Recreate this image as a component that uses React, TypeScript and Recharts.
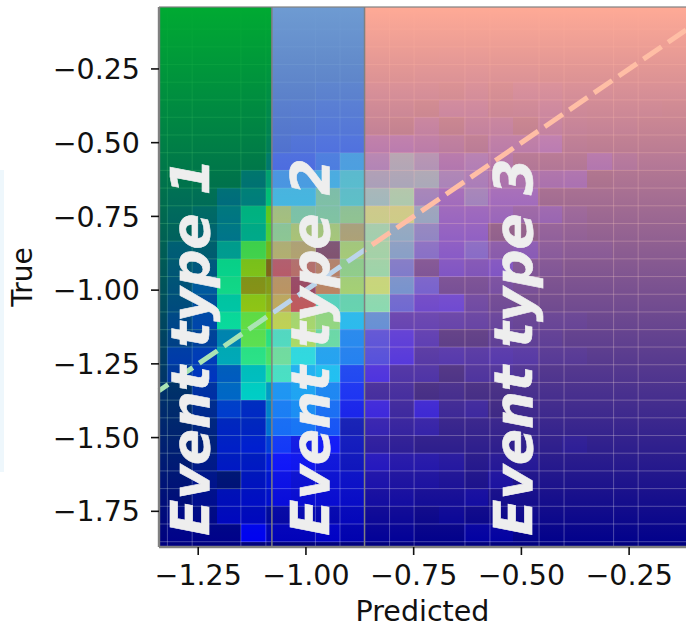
import { ScatterChart, Scatter, XAxis, YAxis, ZAxis, ReferenceArea, ReferenceLine, ReferenceDot, CartesianGrid } from 'recharts';

const xDomain: [number, number] = [-1.341, -0.118];
const yDomain: [number, number] = [-1.871, -0.04];
const xTicks = [-1.25, -1.0, -0.75, -0.5, -0.25];
const yTicks = [-1.75, -1.5, -1.25, -1.0, -0.75, -0.5, -0.25];

// histogram bin centres
const binX = [-1.293, -1.236, -1.178, -1.121, -1.064, -1.006, -0.949, -0.892, -0.834, -0.777, -0.72, -0.662, -0.605, -0.548, -0.49, -0.433, -0.376, -0.318, -0.261, -0.204, -0.146];
const binY = [-0.085, -0.145, -0.205, -0.265, -0.325, -0.385, -0.444, -0.504, -0.564, -0.624, -0.684, -0.744, -0.804, -0.864, -0.924, -0.984, -1.044, -1.104, -1.163, -1.223, -1.283, -1.343, -1.403, -1.463, -1.523, -1.583, -1.643, -1.703, -1.763, -1.823];
const binWidth = 0.05734;
const binHeight = 0.05993;

// colour level of each bin, in percent of the jet scale, top row first
const density = [
  [0, 0, 0, 0, 0, 0, 0, 0, 1, 1, 1, 1, 1, 1, 1, 1, 1, 1, 1, 1, 1],
  [0, 0, 0, 0, 1, 1, 1, 1, 1, 1, 1, 1, 1, 1, 1, 1, 1, 1, 1, 1, 1],
  [0, 0, 0, 0, 1, 1, 1, 1, 1, 1, 1, 2, 2, 1, 1, 1, 1, 1, 1, 1, 1],
  [0, 0, 0, 0, 2, 2, 2, 2, 1, 1, 2, 2, 3, 2, 2, 1, 1, 1, 1, 1, 1],
  [0, 0, 0, 0, 3, 3, 5, 5, 3, 3, 3, 1, 4, 1, 5, 5, 3, 3, 2, 2, 2],
  [0, 0, 0, 0, 5, 6, 8, 8, 2, 2, 0, 6, 6, 2, 3, 6, 3, 2, 2, 2, 1],
  [0, 0, 0, 0, 5, 6, 9, 9, 2, 0, 6, 0, 5, 6, 0, 6, 3, 2, 2, 1, 1],
  [0, 0, 0, 0, 6, 9, 11, 12, 9, 10, 8, 5, 2, 8, 8, 11, 2, 1, 1, 1, 1],
  [0, 0, 0, 0, 11, 11, 18, 29, 17, 28, 22, 9, 15, 8, 2, 2, 2, 9, 4, 2, 2],
  [0, 0, 0, 10, 26, 28, 33, 41, 26, 28, 29, 18, 16, 8, 8, 8, 9, 0, 1, 1, 1],
  [2, 2, 12, 17, 35, 35, 54, 43, 33, 39, 19, 11, 19, 11, 11, 1, 1, 1, 1, 1, 1],
  [3, 5, 16, 31, 65, 53, 54, 59, 50, 51, 28, 11, 12, 10, 6, 8, 3, 1, 1, 1, 1],
  [2, 6, 17, 29, 57, 65, 64, 73, 40, 29, 21, 12, 12, 0, 0, 3, 2, 1, 1, 1, 1],
  [6, 5, 26, 52, 70, 73, 98, 63, 42, 27, 17, 11, 16, 6, 8, 3, 2, 2, 1, 1, 1],
  [5, 7, 37, 68, 88, 84, 80, 57, 42, 20, 2, 10, 8, 10, 2, 2, 1, 1, 1, 1, 1],
  [5, 14, 39, 78, 76, 94, 79, 61, 53, 25, 16, 2, 2, 4, 2, 1, 1, 1, 1, 1, 1],
  [5, 10, 34, 68, 72, 87, 44, 47, 41, 18, 10, 12, 4, 2, 1, 1, 1, 1, 1, 1, 1],
  [6, 11, 37, 55, 65, 60, 56, 33, 25, 6, 6, 5, 4, 3, 2, 2, 2, 1, 1, 1, 1],
  [5, 8, 23, 53, 43, 60, 48, 25, 16, 11, 6, 0, 0, 2, 2, 2, 1, 1, 1, 1, 1],
  [9, 11, 29, 43, 49, 37, 29, 24, 16, 11, 4, 5, 4, 5, 4, 2, 2, 1, 1, 1, 1],
  [7, 11, 18, 32, 42, 31, 33, 16, 11, 4, 4, 0, 3, 3, 2, 1, 1, 1, 1, 1, 1],
  [0, 7, 20, 34, 27, 29, 25, 14, 3, 3, 0, 1, 0, 0, 1, 1, 1, 1, 1, 1, 1],
  [0, 4, 15, 10, 24, 26, 22, 10, 10, 3, 9, 2, 3, 0, 1, 1, 1, 1, 1, 1, 1],
  [0, 2, 9, 9, 22, 23, 19, 4, 5, 3, 4, 1, 1, 1, 1, 1, 1, 1, 1, 1, 1],
  [0, 1, 9, 10, 16, 9, 12, 5, 3, 2, 1, 1, 1, 1, 1, 1, 2, 1, 1, 1, 1],
  [0, 2, 8, 8, 11, 10, 8, 5, 6, 4, 4, 3, 1, 2, 2, 1, 1, 1, 1, 1, 1],
  [0, 2, 0, 7, 9, 7, 7, 6, 4, 3, 3, 2, 1, 3, 1, 1, 1, 1, 1, 1, 1],
  [0, 2, 6, 7, 8, 7, 7, 6, 3, 3, 2, 2, 3, 1, 1, 1, 1, 1, 1, 1, 1],
  [1, 1, 6, 6, 3, 4, 4, 5, 2, 2, 1, 2, 1, 1, 1, 1, 1, 1, 1, 1, 1],
  [1, 1, 1, 10, 5, 5, 6, 4, 2, 2, 1, 1, 3, 3, 1, 1, 1, 1, 1, 1, 1],
];

// faint edges left over from the resampled mesh
const gridX = [-1.3215, -1.264, -1.151, -1.093, -0.978, -0.921, -0.806, -0.749, -0.631, -0.573, -0.459, -0.401, -0.286, -0.229];
const gridY = [-0.115, -0.175, -0.235, -0.295, -0.355, -0.414, -0.474, -0.534, -0.594, -0.654, -0.714, -0.774, -0.834, -0.894, -0.954, -1.014, -1.074, -1.134, -1.193, -1.253, -1.313, -1.373, -1.433, -1.493, -1.553, -1.613, -1.673, -1.733, -1.793, -1.853];

// event type bands
const bandEdges = [-1.341, -1.079, -0.864, -0.118];
const bandIds = ['band1', 'band2', 'band3'];
const bandColors = ['rgb(0,170,50)', 'rgb(110,155,210)', 'rgb(255,170,150)'];
const eventLabels = ['Event type 1', 'Event type 2', 'Event type 3'];
const eventX = [-1.225, -0.947, -0.475];
const eventY = -1.8325;

// dashed x = y line
const lineX = [-1.341, -0.118];
const lineY = [-1.341, -0.118];

const W = 686;
const H = 628;
const LEFT = 159;
const TOP = 7;
const BOTTOM = 81;
const plotW = W - LEFT;
const plotH = H - TOP - BOTTOM;
const cellW = (binWidth / (xDomain[1] - xDomain[0])) * plotW;
const cellH = (binHeight / (yDomain[1] - yDomain[0])) * plotH;

const cells = density.flatMap((row, r) => row.map((v, c) => ({ x: binX[c], y: binY[r], v })));

const ramp = (t: number, pts: number[][]) => {
  if (t <= pts[0][0]) return pts[0][1];
  for (let i = 1; i < pts.length; i++) {
    if (t <= pts[i][0]) {
      const [a, av] = pts[i - 1];
      const [b, bv] = pts[i];
      return av + ((t - a) / (b - a)) * (bv - av);
    }
  }
  return pts[pts.length - 1][1];
};

// matplotlib's jet
const jet = (pct: number) => {
  const t = pct / 100;
  const r = ramp(t, [[0.35, 0], [0.66, 1], [0.89, 1], [1, 0.5]]);
  const g = ramp(t, [[0.125, 0], [0.375, 1], [0.64, 1], [0.91, 0]]);
  const b = ramp(t, [[0, 0.5], [0.11, 1], [0.34, 1], [0.65, 0]]);
  return `rgb(${Math.round(r * 255)},${Math.round(g * 255)},${Math.round(b * 255)})`;
};

const fmt = (v: number) => v.toFixed(2).replace('-', '\u2212');
const FONT = '"DejaVu Sans", sans-serif';

const Bin = (props: any) => (
  <rect
    x={props.cx - cellW / 2}
    y={props.cy - cellH / 2}
    width={cellW + 0.6}
    height={cellH + 0.6}
    fill={jet(props.payload.v)}
    shapeRendering="crispEdges"
  />
);

export default function App() {
  const z = { base: 10, bins: 20, grid: 30, band: 40, line: 50, axis: 60, text: 70 };
  return (
    <div style={{ position: 'absolute', left: 0, top: 0, width: W, height: H, background: '#fff' }}>
      <div style={{ position: 'absolute', left: 0, top: 170, width: 4, height: 302, background: '#eef7fc' }} />
      <ScatterChart width={W} height={H} margin={{ top: TOP, right: 0, bottom: 0, left: 0 }}>
        <defs>
          {bandIds.map((id, i) => (
            <linearGradient key={id} id={id} x1="0" y1="0" x2="0" y2="1">
              <stop offset="0" stopColor={bandColors[i]} stopOpacity={1} />
              <stop offset="1" stopColor={bandColors[i]} stopOpacity={0} />
            </linearGradient>
          ))}
          <linearGradient id="dash" x1="0" y1="0" x2="1" y2="0">
            <stop offset="0.214" stopColor="rgb(170,228,180)" />
            <stop offset="0.214" stopColor="rgb(188,212,235)" />
            <stop offset="0.39" stopColor="rgb(188,212,235)" />
            <stop offset="0.39" stopColor="rgb(255,190,165)" />
          </linearGradient>
        </defs>
        <XAxis
          type="number"
          dataKey="x"
          domain={xDomain}
          ticks={xTicks}
          tickFormatter={fmt}
          allowDataOverflow
          height={BOTTOM}
          interval={0}
          zIndex={z.axis}
          tick={{ fill: '#111', fontSize: 28.5, fontFamily: FONT }}
          tickSize={8}
          tickMargin={10}
          tickLine={{ stroke: '#111', strokeWidth: 1.6 }}
          axisLine={{ stroke: '#808080', strokeWidth: 2.4 }}
          label={{ value: 'Predicted', position: 'insideBottom', offset: 7, fill: '#111', fontSize: 28.5, fontFamily: FONT }}
        />
        <YAxis
          type="number"
          dataKey="y"
          domain={yDomain}
          ticks={yTicks}
          tickFormatter={fmt}
          allowDataOverflow
          width={LEFT}
          interval={0}
          zIndex={z.axis}
          tick={{ fill: '#111', fontSize: 28.5, fontFamily: FONT }}
          tickSize={8}
          tickMargin={11}
          tickLine={{ stroke: '#111', strokeWidth: 1.6 }}
          axisLine={{ stroke: '#808080', strokeWidth: 2.4 }}
          label={{ value: 'True', angle: -90, position: 'insideLeft', offset: 22, textAnchor: 'middle', fill: '#111', fontSize: 28, fontFamily: FONT }}
        />
        <ZAxis range={[1, 1]} />
        <ReferenceArea zIndex={z.base} x1={xDomain[0]} x2={xDomain[1]} y1={yDomain[0]} y2={yDomain[1]} fill="#000080" fillOpacity={1} stroke="none" />
        <Scatter zIndex={z.bins} data={cells} isAnimationActive={false} shape={Bin} />
        <CartesianGrid zIndex={z.grid} horizontalValues={gridY} verticalValues={gridX} stroke="#fff" strokeOpacity={0.28} strokeWidth={1} />
        {bandIds.map((id, i) => (
          <ReferenceArea
            key={id}
            zIndex={z.band}
            x1={bandEdges[i]}
            x2={bandEdges[i + 1]}
            y1={yDomain[0]}
            y2={yDomain[1]}
            fill={`url(#${id})`}
            fillOpacity={1}
            stroke="none"
          />
        ))}
        <ReferenceLine
          zIndex={z.line}
          segment={[
            { x: lineX[0], y: lineY[0] },
            { x: lineX[1], y: lineY[1] },
          ]}
          stroke="url(#dash)"
          strokeWidth={5}
          strokeDasharray="22 7.9"
          strokeDashoffset={11}
        />
        <ReferenceLine zIndex={z.line} x={bandEdges[1]} stroke="#808080" strokeWidth={1.5} />
        <ReferenceLine zIndex={z.line} x={bandEdges[2]} stroke="#808080" strokeWidth={1.5} />
        <ReferenceLine zIndex={z.line} y={yDomain[1]} stroke="#808080" strokeOpacity={0.6} strokeWidth={2} />
        {eventLabels.map((text, i) => (
          <ReferenceDot
            key={text}
            zIndex={z.text}
            x={eventX[i]}
            y={eventY}
            r={0}
            shape={(p: any) => (
              <text
                transform={`translate(${p.cx},${p.cy}) rotate(-90)`}
                fill="#eeeeee"
                stroke="#eeeeee"
                strokeWidth={0.6}
                fontSize={53}
                fontWeight="bold"
                fontStyle="italic"
                fontFamily={FONT}
              >
                {text}
              </text>
            )}
          />
        ))}
      </ScatterChart>
    </div>
  );
}
